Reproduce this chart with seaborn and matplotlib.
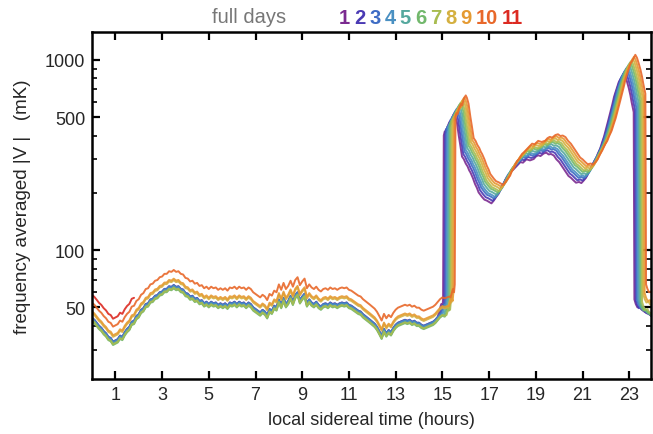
import numpy as np
import matplotlib
matplotlib.use('Agg')
import matplotlib.pyplot as plt
import seaborn as sns
from matplotlib.ticker import LogLocator, NullFormatter, FixedLocator

# night-time profile (sun down) of day 1, sampled every 0.1 h from 0 to 15.4 h
night_hr = np.round(np.arange(0, 15.45, 0.1), 1)
night_mk = [44, 43, 41.5, 40, 39, 37.5, 36.5, 35, 34.5, 33,
            33.5, 34, 35.5, 35, 37, 38.5, 39.5, 42, 42.5, 45,
            46, 48.5, 49.5, 52, 52.5, 55, 55.5, 57.5, 58, 60,
            60.5, 62.5, 62.5, 64.5, 64, 65.5, 64, 64.5, 62.5, 62,
            59.5, 59, 57, 57.5, 55.5, 56, 54, 54.5, 52.5, 53.5,
            52, 53.5, 52.5, 53, 51.5, 52.5, 51.5, 52.5, 51, 53,
            52.5, 53.5, 52, 53.5, 52.5, 53, 51.5, 53, 52, 50,
            49, 48, 47, 48.5, 47.5, 45.5, 49, 48, 51, 50,
            55, 51.5, 56, 52, 54, 57.5, 53.5, 58, 60, 54.5,
            57, 59, 52.5, 55, 53, 52, 53.5, 51.5, 50.5, 52,
            52.5, 51.5, 53, 52, 52.5, 51.5, 52.5, 53, 52.5, 53,
            51.5, 51, 50, 49, 48, 47.5, 46, 45, 44, 43,
            42, 41, 39.5, 37.5, 35.5, 38.5, 36.5, 38, 37, 39,
            40.5, 41.5, 42, 42.5, 43, 42.5, 43, 42, 42.5, 41.5,
            41.5, 40.5, 40, 40.5, 41, 41.5, 42, 43, 44.5, 46,
            47, 46.5, 47, 47.5, 48]

# daytime profile of day 1 (sunrise jump near 15 h, drop near 23.2 h)
day_hr = [14.85, 14.95, 15.0, 15.03, 15.06, 15.1, 15.15, 15.22, 15.3, 15.35, 15.42, 15.5,
          15.55, 15.62, 15.7, 15.76, 15.84, 15.92, 16.0, 16.08, 16.15, 16.2, 16.3, 16.4,
          16.48, 16.55, 16.63, 16.7, 16.8, 16.9, 17.0, 17.1, 17.2, 17.3, 17.4, 17.48,
          17.58, 17.7, 17.8, 17.91, 18.0, 18.1, 18.2, 18.34, 18.45, 18.6, 18.75, 18.91,
          19.0, 19.1, 19.2, 19.34, 19.45, 19.55, 19.65, 19.77, 19.88, 20.0, 20.1, 20.19,
          20.3, 20.4, 20.5, 20.62, 20.72, 20.85, 20.95, 21.05, 21.15, 21.25, 21.35, 21.48,
          21.56, 21.65, 21.75, 21.84, 21.92, 22.0, 22.1, 22.19, 22.27, 22.35, 22.45, 22.55,
          22.65, 22.76, 22.83, 22.9, 22.98, 23.05, 23.1, 23.19, 23.22, 23.28, 23.35, 23.45,
          23.5, 23.6, 23.7, 23.8, 23.95, 24.5]
day_mk = [47, 52, 50, 55, 400, 420, 415, 445, 470, 460, 500, 520,
          505, 470, 400, 360, 310, 300, 285, 275, 262, 256, 240, 222,
          212, 201, 195, 190, 184, 182, 179, 176, 182, 190, 197, 209,
          218, 235, 242, 256, 262, 270, 278, 290, 288, 300, 296, 301,
          310, 315, 312, 322, 325, 318, 320, 314, 300, 290, 278, 267,
          255, 245, 240, 232, 226, 228, 225, 232, 240, 255, 268, 290,
          300, 320, 340, 369, 395, 430, 480, 531, 580, 640, 700, 763,
          800, 850, 820, 770, 710, 650, 600, 531, 55, 52, 50, 50.5,
          49, 48, 47, 46.5, 45, 44]

days = ['1', '2', '3', '4', '5', '6', '7', '8', '9', '10', '11']
colors = ['#7b2a90', '#4a3ab4', '#3e6cc4', '#4a90c2', '#55a89e', '#72b86c',
          '#a8bc50', '#d4b040', '#e59a32', '#e8682a', '#dc2a22']
night_scale = [1.00, 0.99, 1.00, 0.99, 0.97, 0.96, 0.97, 1.06, 1.08, 1.20, 1.32]
day_scale = [1.00, 1.03, 1.06, 1.08, 1.11, 1.14, 1.16, 1.19, 1.22, 1.25, 1.27]
day_shift = [0.00, 0.055, 0.11, 0.165, 0.22, 0.275, 0.33, 0.385, 0.44, 0.50, 0.55]
day_end = [24, 24, 24, 24, 24, 24, 24, 24, 24, 24, 1.8]  # day 11 only partly observed

sns.set_style('ticks')
plt.rcParams['font.family'] = ['Liberation Sans', 'DejaVu Sans']

fig = plt.figure(figsize=(6.53, 4.35), dpi=100)
ax = fig.add_axes([0.1409, 0.1264, 0.856, 0.7977])

nm = np.array(night_mk)
dh = np.array(day_hr)
dm = np.array(day_mk)
for i, d in enumerate(days):
    start = dh[0] + day_shift[i]
    keep = (night_hr < start) & (night_hr <= day_end[i])
    x = list(night_hr[keep])
    y = list(nm[keep] * night_scale[i])
    if day_end[i] > 15:
        high = dm > 100
        x += list(dh + day_shift[i])
        y += list(np.where(high, dm * day_scale[i], dm * night_scale[i]))
    sns.lineplot(x=x, y=y, ax=ax, color=colors[i], lw=1.4, alpha=0.9,
                 estimator=None, sort=False)

ax.set_yscale('log')
ax.set_xlim(0, 23.93)
ax.set_ylim(21, 1400)
ax.set_xticks(range(1, 24, 2))
ax.yaxis.set_major_locator(FixedLocator([50, 100, 500, 1000]))
ax.set_yticklabels(['50', '100', '500', '1000'])
ax.yaxis.set_minor_locator(LogLocator(base=10, subs=range(2, 10)))
ax.yaxis.set_minor_formatter(NullFormatter())
ax.tick_params(which='both', direction='in', top=True, right=True, color='black',
               labelsize=13, width=1.6)
ax.tick_params(which='major', length=6, pad=5)
ax.tick_params(which='minor', length=3.5, width=1.2)
for s in ax.spines.values():
    s.set_linewidth(1.8)
    s.set_color('black')

ax.set_xlabel('local sidereal time (hours)', fontsize=13, labelpad=6)
ax.set_ylabel('frequency averaged |V |   (mK)', fontsize=13.5, labelpad=10)

# top legend: "full days" followed by coloured day numbers
fig.text(212 / 653, 1 - 23 / 435, 'full days', color='#777777', fontsize=14.5,
         ha='left', va='baseline')
renderer = fig.canvas.get_renderer()
xpos = 339
for d, c in zip(days, colors):
    t = fig.text(xpos / 653, 1 - 24 / 435, d, color=c, fontsize=14.5, fontweight='bold',
                 ha='left', va='baseline')
    bb = t.get_window_extent(renderer)
    xpos = bb.x1 + 4

fig.savefig('out.png', dpi=100)
